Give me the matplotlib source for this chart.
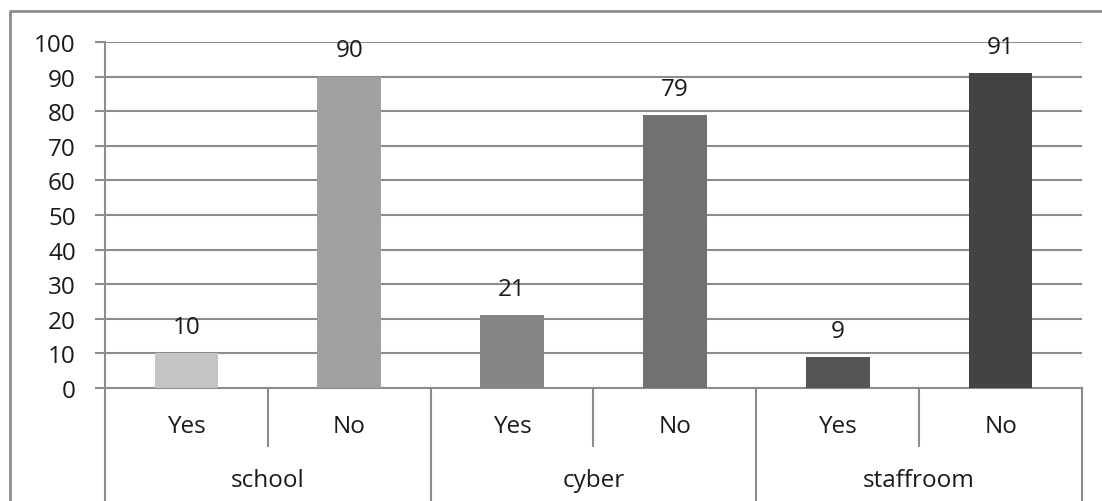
import matplotlib.pyplot as plt
from matplotlib import transforms
from matplotlib.lines import Line2D

groups = ["school", "cyber", "staffroom"]
answers = ["Yes", "No"]
values = [10, 90, 21, 79, 9, 91]
colors = ["#c4c4c4", "#a0a0a0", "#858585", "#717171", "#555555", "#434343"]

plt.rcParams['font.family'] = ['Open Sans', 'DejaVu Sans']
grid_c = "#8c8c8c"
text_c = "#1a1a1a"
fs = 17.5

W, H = 1102, 502
fig = plt.figure(figsize=(W / 100, H / 100), dpi=100)
ax = fig.add_axes([105 / W, 113 / H, (1082 - 105) / W, (389 - 43) / H])

x = list(range(len(values)))
ax.bar(x, values, width=0.39, color=colors, zorder=3)
for xi, v in zip(x, values):
    ax.annotate(str(v), (xi, v), xytext=(0, 14.5), textcoords="offset points",
                ha="center", va="baseline", fontsize=fs, color=text_c)

ax.set_xlim(-0.5, len(values) - 0.5)
ax.set_ylim(0, 100)
ax.set_yticks(range(0, 101, 10))
ax.set_xticks([])
ax.yaxis.grid(True, color=grid_c, linewidth=1.5, zorder=0)
ax.set_axisbelow(True)
for s in ["top", "right"]:
    ax.spines[s].set_visible(False)
for s in ["left", "bottom"]:
    ax.spines[s].set_color(grid_c)
    ax.spines[s].set_linewidth(1.5)
ax.tick_params(axis="y", length=7, width=1.5, color=grid_c, pad=14,
               labelsize=fs, labelcolor=text_c)

# two-level category axis below the bars
tr = transforms.blended_transform_factory(ax.transData, fig.transFigure)
y0 = (H - 389) / H
short_bottom = (H - 447) / H
for k in range(len(groups)):
    xs = 2 * k + 0.5
    fig.add_artist(Line2D([xs, xs], [y0, short_bottom], transform=tr,
                          color=grid_c, linewidth=1.5))
for k in range(len(groups) + 1):
    xs = 2 * k - 0.5
    fig.add_artist(Line2D([xs, xs], [y0, 0], transform=tr,
                          color=grid_c, linewidth=1.5))
for xi in x:
    fig.text(xi, (H - 433) / H, answers[xi % 2], transform=tr, ha="center",
             va="baseline", fontsize=fs, color=text_c)
for k, g in enumerate(groups):
    fig.text(2 * k + 0.5, (H - 487) / H, g, transform=tr, ha="center",
             va="baseline", fontsize=fs, color=text_c)

# chart frame
fig.add_artist(Line2D([10 / W, 10 / W, 1], [0, (H - 12) / H, (H - 12) / H],
                      transform=fig.transFigure, color=grid_c, linewidth=2))

fig.savefig("out.png", dpi=100)
